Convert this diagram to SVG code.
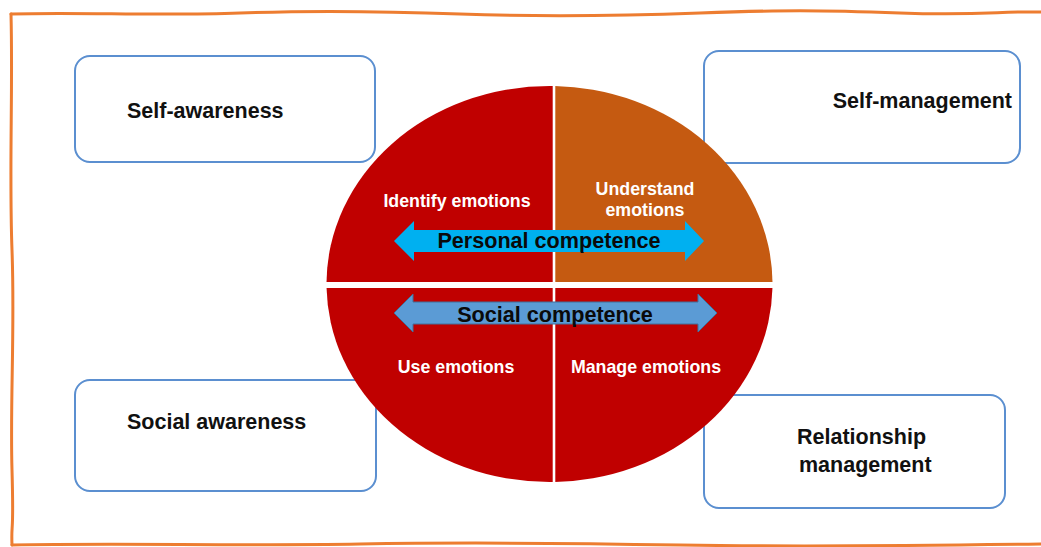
<svg xmlns="http://www.w3.org/2000/svg" width="1041" height="547" viewBox="0 0 1041 547">
  <style>
    .box { fill: #ffffff; stroke: #5B8FD0; stroke-width: 2; }
    .boxlabel { font-family: "Liberation Sans", Arial, sans-serif; font-weight: bold; font-size: 21.5px; fill: #111111; }
    .inner { font-family: "Liberation Sans", Arial, sans-serif; font-weight: bold; font-size: 17.8px; fill: #ffffff; text-anchor: middle; }
    .banner { font-family: "Liberation Sans", Arial, sans-serif; font-weight: bold; font-size: 21.6px; fill: #0a0a0a; text-anchor: middle; }
    .frame { fill: none; stroke: #ED7D31; stroke-width: 3; stroke-linecap: round; stroke-linejoin: round; }
  </style>
  <defs>
    <clipPath id="qTL"><rect x="300" y="60" width="252.7" height="222"/></clipPath>
    <clipPath id="qTR"><rect x="555.3" y="60" width="240" height="222"/></clipPath>
    <clipPath id="qBL"><rect x="300" y="288" width="252.7" height="220"/></clipPath>
    <clipPath id="qBR"><rect x="555.3" y="288" width="240" height="220"/></clipPath>
  </defs>

  <rect x="0" y="0" width="1041" height="547" fill="#ffffff"/>

  <!-- hand-drawn frame -->
  <g id="frame">
    <path class="frame" d="M 11 14 C 80 12, 160 16, 240 13 S 380 11, 460 14 S 620 16, 700 13 S 820 10, 900 13 S 1000 11, 1041 12"/>
    <path class="frame" d="M 11 14 C 13 90, 9 170, 12 250 S 10 400, 12 470 S 11 520, 12 545"/>
    <path class="frame" d="M 12 545 C 120 543, 240 546, 360 544 S 560 543, 680 545 S 900 546, 1041 544"/>
  </g>

  <!-- outer boxes -->
  <g id="self-awareness">
    <rect class="box" x="75" y="56" width="300" height="106" rx="15"/>
    <text class="boxlabel" x="127" y="118">Self-awareness</text>
  </g>
  <g id="self-management">
    <rect class="box" x="704" y="51" width="316" height="112" rx="15"/>
    <text class="boxlabel" x="1012" y="108" text-anchor="end">Self-management</text>
  </g>
  <g id="social-awareness">
    <rect class="box" x="75" y="380" width="301" height="111" rx="15"/>
    <text class="boxlabel" x="127" y="429">Social awareness</text>
  </g>
  <g id="relationship-management">
    <rect class="box" x="704" y="395" width="301" height="113" rx="15"/>
    <text class="boxlabel" x="797" y="444">Relationship</text>
    <text class="boxlabel" x="799" y="472">management</text>
  </g>

  <!-- central ellipse split into four quadrants -->
  <g id="quadrant-identify">
    <ellipse cx="549.5" cy="284" rx="223" ry="198" fill="#C00000" clip-path="url(#qTL)"/>
    <text class="inner" x="457" y="207">Identify emotions</text>
  </g>
  <g id="quadrant-understand">
    <ellipse cx="549.5" cy="284" rx="223" ry="198" fill="#C55A11" clip-path="url(#qTR)"/>
    <text class="inner" x="645" y="195">Understand</text>
    <text class="inner" x="645" y="216">emotions</text>
  </g>
  <g id="quadrant-use">
    <ellipse cx="549.5" cy="284" rx="223" ry="198" fill="#C00000" clip-path="url(#qBL)"/>
    <text class="inner" x="456" y="373">Use emotions</text>
  </g>
  <g id="quadrant-manage">
    <ellipse cx="549.5" cy="284" rx="223" ry="198" fill="#C00000" clip-path="url(#qBR)"/>
    <text class="inner" x="646" y="373">Manage emotions</text>
  </g>

  <!-- double-headed banners -->
  <g id="connectors">
    <g id="personal-competence">
      <path d="M 394 241 L 414 221 L 414 230 L 685 230 L 685 221 L 704 241 L 685 261 L 685 252 L 414 252 L 414 261 Z" fill="#00B0F0"/>
      <text class="banner" x="549" y="248">Personal competence</text>
    </g>
    <g id="social-competence">
      <path d="M 394 313 L 413 294 L 413 302 L 698 302 L 698 294 L 717 313 L 698 332 L 698 324 L 413 324 L 413 332 Z" fill="#5B9BD5" stroke="#41719C" stroke-width="1"/>
      <text class="banner" x="555" y="322">Social competence</text>
    </g>
  </g>
</svg>
